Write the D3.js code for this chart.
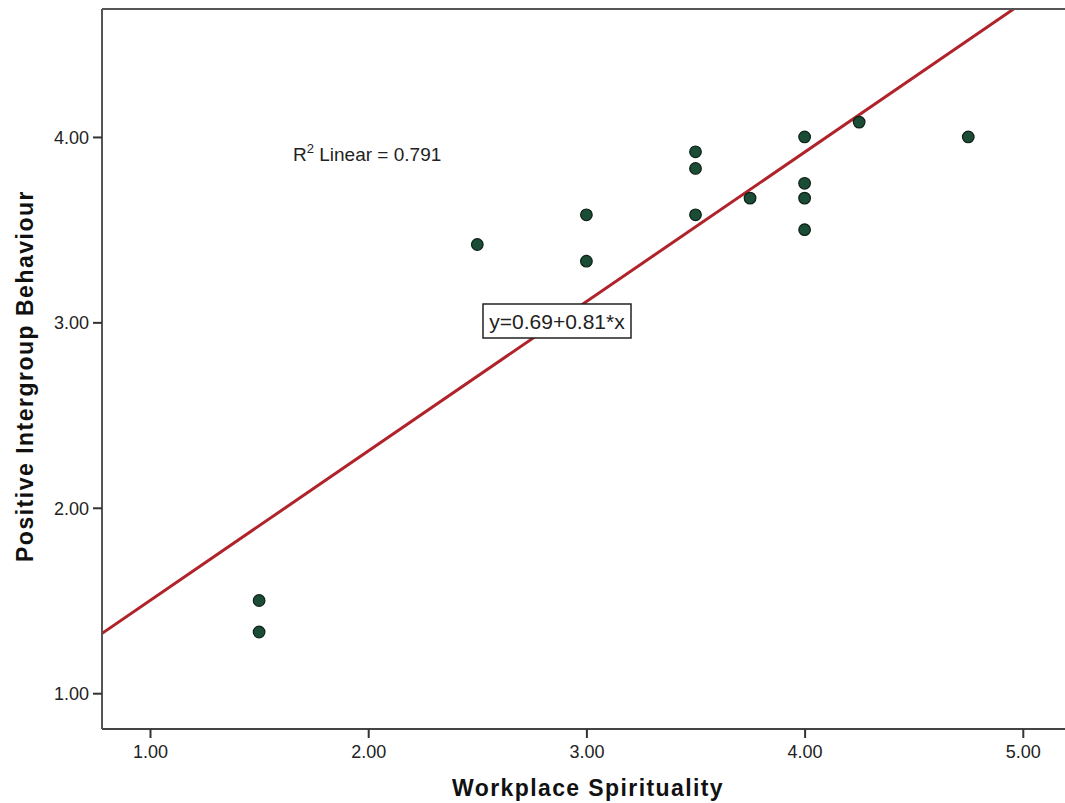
<!DOCTYPE html>
<html>
<head>
<meta charset="utf-8">
<script src="https://cdn.jsdelivr.net/npm/d3@7"></script>
<style>
  html, body { margin:0; padding:0; background:#fff; }
  svg { display:block; font-family: "Liberation Sans", Arial, sans-serif; }
</style>
</head>
<body>
<svg id="chart" width="1065" height="803"></svg>
<script>
// ===== Data =====
const wsValues  = [1.5, 1.5, 2.5, 3.0, 3.0, 3.5, 3.5, 3.5, 3.75, 4.0, 4.0, 4.0, 4.0, 4.25, 4.75];
const pibValues = [1.50, 1.33, 3.42, 3.58, 3.33, 3.92, 3.83, 3.58, 3.67, 4.00, 3.75, 3.67, 3.50, 4.08, 4.00];
const xTicks = [1, 2, 3, 4, 5];
const yTicks = [1, 2, 3, 4];
const fitIntercept = 0.694, fitSlope = 0.806;
const r2Label = '0.791';
const eqLabel = 'y=0.69+0.81*x';
const xTitle = 'Workplace Spirituality';
const yTitle = 'Positive Intergroup Behaviour';

const points = wsValues.map((v, i) => ({x: v, y: pibValues[i]}));

const svg = d3.select('#chart');
const M = {left:102, top:9, right:0, bottom:74};
const W = 1065, H = 803;

// domain reaches past the right edge, as in the source image
const x = d3.scaleLinear().domain([0.78, 5.20]).range([M.left, M.left + (5.20-0.78)*218.2]);
const y = d3.scaleLinear().domain([0.807, 4.69]).range([H - M.bottom, M.top]);

const fmt = d3.format('.2f');

// frame
const g = svg.append('g');
g.append('line').attr('x1', M.left).attr('x2', W + 5).attr('y1', M.top).attr('y2', M.top)
  .attr('stroke', '#555').attr('stroke-width', 2);
g.append('line').attr('x1', M.left).attr('x2', W + 5).attr('y1', H - M.bottom).attr('y2', H - M.bottom)
  .attr('stroke', '#444').attr('stroke-width', 2);
g.append('line').attr('x1', M.left).attr('x2', M.left).attr('y1', M.top).attr('y2', H - M.bottom)
  .attr('stroke', '#555').attr('stroke-width', 2);

// axes
const xAxis = d3.axisBottom(x).tickValues(xTicks).tickFormat(fmt).tickSize(9).tickSizeOuter(0);
const yAxis = d3.axisLeft(y).tickValues(yTicks).tickFormat(fmt).tickSize(9).tickSizeOuter(0);

const xg = svg.append('g').attr('transform', `translate(0,${H - M.bottom})`).call(xAxis);
const yg = svg.append('g').attr('transform', `translate(${M.left},0)`).call(yAxis);
[xg, yg].forEach(a => {
  a.select('.domain').remove();
  a.selectAll('.tick line').attr('stroke', '#333').attr('stroke-width', 2);
  a.selectAll('.tick text').attr('fill', '#222').style('font-size', '18px').style('font-family', '"Liberation Sans", Arial, sans-serif');
});
xg.selectAll('.tick text').attr('y', 29).attr('dy', 0);
yg.selectAll('.tick text').attr('x', -13).attr('dy', '0.36em');

// clip for fit line
svg.append('clipPath').attr('id', 'plotclip').append('rect')
  .attr('x', M.left + 1).attr('y', M.top + 1)
  .attr('width', W - M.left).attr('height', H - M.bottom - M.top - 2);

const xd = x.domain();
const fitLine = d3.line().x(d => x(d)).y(d => y(fitIntercept + fitSlope * d));
svg.append('path')
  .attr('clip-path', 'url(#plotclip)')
  .attr('d', fitLine([xd[0], xd[1]]))
  .attr('fill', 'none')
  .attr('stroke', '#b0232b')
  .attr('stroke-width', 3);

// points
svg.append('g').selectAll('circle').data(points).join('circle')
  .attr('cx', d => x(d.x)).attr('cy', d => y(d.y))
  .attr('r', 5.8)
  .attr('fill', '#1b4d36')
  .attr('stroke', '#0d1f16')
  .attr('stroke-width', 1.2);

// R² annotation
const r2 = svg.append('text').attr('x', 293).attr('y', 161)
  .attr('fill', '#222').style('font-size', '19px');
r2.append('tspan').text('R');
r2.append('tspan').attr('dy', -8).style('font-size', '13px').text('2');
r2.append('tspan').attr('dy', 8).text(' Linear = ' + r2Label);

// equation box
const eq = svg.append('g').attr('transform', 'translate(483,304)');
eq.append('rect').attr('width', 148).attr('height', 34)
  .attr('fill', '#fff').attr('stroke', '#222').attr('stroke-width', 1.5);
eq.append('text').attr('x', 74).attr('y', 24.5).attr('text-anchor', 'middle')
  .attr('fill', '#222').style('font-size', '21px').text(eqLabel);

// axis titles
svg.append('text').attr('x', 588).attr('y', 796).attr('text-anchor', 'middle')
  .style('font-size', '23px').style('font-weight', 'bold').style('letter-spacing', '1.4px').attr('fill', '#111')
  .text(xTitle);
svg.append('text').attr('transform', 'translate(33,376) rotate(-90)').attr('text-anchor', 'middle')
  .style('font-size', '23px').style('font-weight', 'bold').style('letter-spacing', '1.5px').attr('fill', '#111')
  .text(yTitle);
</script>
</body>
</html>
